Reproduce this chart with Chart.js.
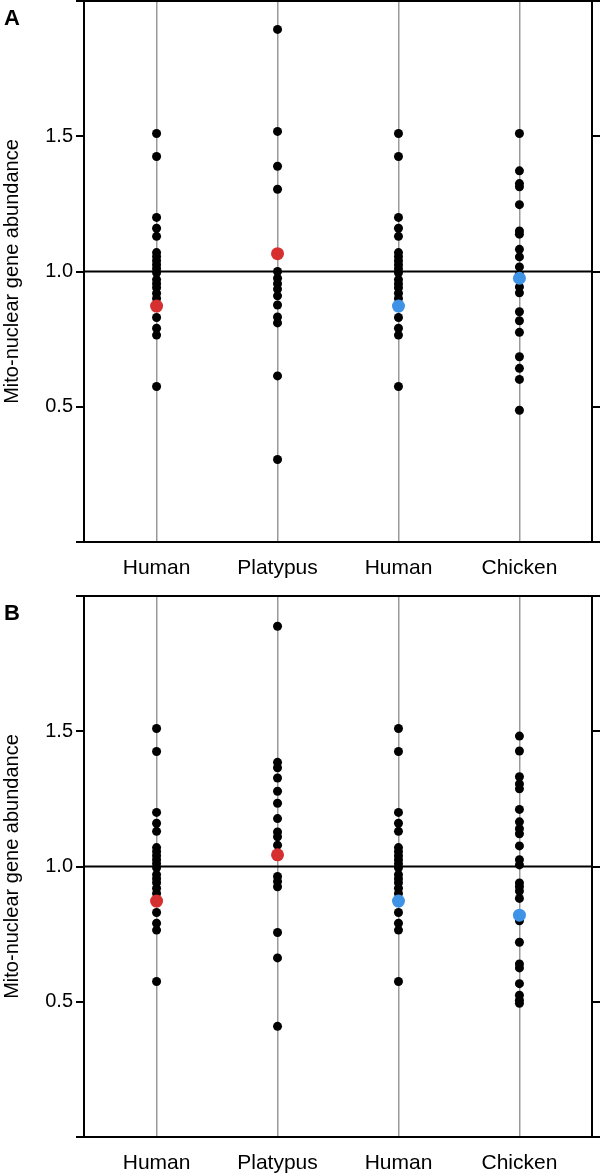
<!DOCTYPE html>
<html>
<head>
<meta charset="utf-8">
<script src="https://cdn.jsdelivr.net/npm/chart.js@4"></script>
<style>
  html, body { margin: 0; padding: 0; background: #fff; overflow: hidden; }
  canvas { position: absolute; left: 0; }
  #chartA { top: 0; }
  #chartB { top: 595px; }
</style>
</head>
<body>
<canvas id="chartA" width="600" height="595"></canvas>
<canvas id="chartB" width="600" height="595"></canvas>
<script>
const categories = ["Human", "Platypus", "Human", "Chicken"];
const yTicks = [0, 0.5, 1, 1.5, 2];
const yLabels = ["", "0.5", "1.0", "1.5", ""];

// human columns look the same in both panels
const human = [1.51, 1.425, 1.20, 1.16, 1.13, 1.07, 1.055, 1.04, 1.025, 1.01, 0.995, 0.97, 0.955, 0.94, 0.92, 0.90, 0.83, 0.79, 0.765, 0.575];
const humanMark = 0.872;

// panel A
const platypusA = [1.895, 1.518, 1.389, 1.304, 1.0, 0.975, 0.955, 0.935, 0.91, 0.876, 0.832, 0.81, 0.614, 0.305];
const platypusMarkA = 1.066;
const chickenA = [1.51, 1.372, 1.325, 1.313, 1.247, 1.15, 1.138, 1.082, 1.054, 1.017, 0.99, 0.943, 0.921, 0.851, 0.818, 0.775, 0.685, 0.642, 0.601, 0.487];
const chickenMarkA = 0.975;

// panel B
const platypusB = [1.888, 1.385, 1.365, 1.327, 1.278, 1.234, 1.177, 1.128, 1.11, 1.079, 0.963, 0.945, 0.925, 0.756, 0.662, 0.409];
const platypusMarkB = 1.043;
const chickenB = [1.482, 1.427, 1.332, 1.305, 1.287, 1.211, 1.165, 1.14, 1.121, 1.076, 1.025, 1.006, 0.939, 0.925, 0.909, 0.882, 0.799, 0.72, 0.64, 0.625, 0.567, 0.524, 0.506, 0.494];
const chickenMarkB = 0.82;

const FONT = "'Liberation Sans', Arial, Helvetica, sans-serif";
const RED = "#d5302f";
const BLUE = "#3f93e6";

function pts(col, vals) {
    return vals.map(v => ({ x: col, y: v }));
}

// fixed axis box, no extra room for end labels
function fixWidth(w) {
    return s => {
        s.width = w;
        s.paddingTop = 0;
        s.paddingBottom = 0;
    };
}

function makePanel(id, letter, platypus, platypusMark, chicken, chickenMark) {
    const black = [].concat(pts(1, human), pts(2, platypus), pts(3, human), pts(4, chicken));
    const red = [{ x: 1, y: humanMark }, { x: 2, y: platypusMark }];
    const blue = [{ x: 3, y: humanMark }, { x: 4, y: chickenMark }];

    const letterPlugin = {
        id: "letter",
        afterDraw(chart) {
            const ctx = chart.ctx;
            ctx.save();
            ctx.fillStyle = "#000";
            ctx.font = "bold 22px " + FONT;
            ctx.textBaseline = "alphabetic";
            ctx.fillText(letter, 4, 25);
            ctx.restore();
        }
    };

    new Chart(document.getElementById(id), {
        type: "scatter",
        data: {
            datasets: [
                { data: red, backgroundColor: RED, borderWidth: 0, pointRadius: 6.5, order: 0 },
                { data: blue, backgroundColor: BLUE, borderWidth: 0, pointRadius: 6.5, order: 0 },
                { data: black, backgroundColor: "#000", borderWidth: 0, pointRadius: 4.5, order: 1 },
                {
                    type: "line",
                    data: [{ x: 0.4, y: 1 }, { x: 4.6, y: 1 }],
                    borderColor: "#000", borderWidth: 2, pointRadius: 0, order: 2
                }
            ]
        },
        options: {
            responsive: false,
            animation: false,
            devicePixelRatio: 1,
            layout: { padding: 0, autoPadding: false },
            plugins: { legend: { display: false }, tooltip: { enabled: false } },
            scales: {
                x: {
                    type: "linear", position: "bottom", min: 0.4, max: 4.6,
                    afterBuildTicks: s => { s.ticks = categories.map((c, i) => ({ value: i + 1 })); },
                    afterFit: s => { s.height = 53; },
                    ticks: {
                        callback: (v, i) => categories[i],
                        autoSkip: false, maxRotation: 0, color: "#000", padding: 14,
                        font: { family: FONT, size: 21 }
                    },
                    grid: { color: "#999", lineWidth: 1.5, drawTicks: false },
                    border: { color: "#000", width: 2 }
                },
                xTop: {
                    type: "linear", position: "top", min: 0.4, max: 4.6,
                    afterBuildTicks: s => { s.ticks = [{ value: 1 }]; },
                    afterFit: s => { s.height = 1; },
                    ticks: { display: false },
                    grid: { display: false },
                    border: { color: "#000", width: 2 }
                },
                y: {
                    type: "linear", position: "left", min: 0, max: 2,
                    afterBuildTicks: s => { s.ticks = yTicks.map(v => ({ value: v })); },
                    afterFit: fixWidth(84),
                    ticks: {
                        callback: (v, i) => yLabels[i],
                        color: "#000", padding: 3,
                        font: { family: FONT, size: 20 }
                    },
                    grid: { drawOnChartArea: false, drawTicks: true, tickLength: 8, color: "#000", lineWidth: 2 },
                    border: { color: "#000", width: 2 },
                    title: {
                        display: true, text: "Mito-nuclear gene abundance", color: "#000",
                        padding: 0, font: { family: FONT, size: 20 }
                    }
                },
                yRight: {
                    type: "linear", position: "right", min: 0, max: 2,
                    afterBuildTicks: s => { s.ticks = yTicks.map(v => ({ value: v })); },
                    afterFit: fixWidth(8),
                    ticks: { callback: () => "", padding: 0 },
                    grid: { drawOnChartArea: false, drawTicks: true, tickLength: 8, color: "#000", lineWidth: 2 },
                    border: { color: "#000", width: 2 }
                }
            }
        },
        plugins: [letterPlugin]
    });
}

makePanel("chartA", "A", platypusA, platypusMarkA, chickenA, chickenMarkA);
makePanel("chartB", "B", platypusB, platypusMarkB, chickenB, chickenMarkB);
</script>
</body>
</html>
